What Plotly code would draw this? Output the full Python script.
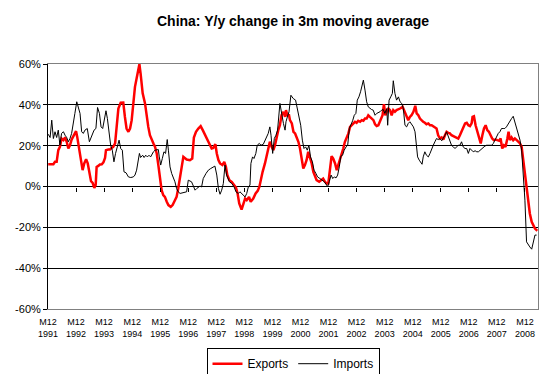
import plotly.graph_objects as go

# months after Dec 1991 (0 = M12 1991), values in percent
exp_month = [0.1, 2.3, 3.0, 3.7, 4.4, 5.1, 5.8, 6.6, 7.3, 8.0, 8.7, 9.4, 10.1, 11.1, 12.0, 12.5, 13.4, 14.1, 14.8, 15.5,
             16.3, 17.0, 17.7, 18.4, 19.1, 19.8, 20.4, 20.8, 21.5, 22.2, 23.0, 23.7, 24.4, 24.8, 25.8, 26.5, 27.2, 27.9,
             28.7, 29.4, 30.1, 31.1, 32.2, 32.9, 33.6, 34.4, 35.1, 35.8, 36.5, 37.2, 37.9, 38.6, 39.1, 39.6, 40.5, 41.5,
             42.2, 42.9, 43.6, 44.3, 45.1, 45.8, 46.5, 47.2, 47.9, 48.6, 49.3, 50.0, 50.8, 51.5, 52.5, 53.3, 54.3, 55.0,
             55.7, 56.5, 57.2, 57.9, 59.3, 60.7, 61.7, 62.4, 63.3, 64.3, 65.3, 66.2, 67.2, 68.2, 69.3, 70.0, 70.7, 71.6,
             72.2, 72.9, 73.6, 74.6, 75.4, 76.1, 76.7, 77.6, 78.6, 79.6, 80.4, 81.1, 81.8, 82.8, 83.5, 84.3, 85.0, 86.0,
             86.7, 87.8, 88.8, 89.7, 90.4, 91.1, 91.8, 92.8, 93.5, 94.2, 94.9, 95.7, 96.4, 97.1, 97.8, 98.5, 99.2, 99.9,
             100.7, 101.4, 101.8, 102.4, 103.1, 103.5, 104.3, 105.0, 105.7, 106.4, 107.1, 107.8, 108.5, 109.2, 109.9,
             110.6, 111.3, 112.0, 112.8, 113.5, 114.2, 114.9, 116.0, 117.0, 117.7, 118.5, 119.2, 119.9, 120.6, 121.3,
             122.0, 122.8, 123.5, 124.2, 124.9, 125.6, 126.3, 127.0, 127.7, 128.5, 129.2, 129.9, 130.6, 131.3, 132.0,
             132.7, 133.5, 134.2, 134.9, 135.6, 136.3, 137.0, 137.7, 138.4, 139.2, 139.9, 140.6, 141.3, 142.0, 143.1,
             143.7, 144.3, 144.9, 145.6, 146.3, 147.0, 147.7, 148.4, 149.1, 149.9, 150.6, 151.7, 152.7, 153.4, 154.1,
             154.8, 155.5, 156.3, 157.1, 157.7, 158.4, 159.1, 159.8, 160.5, 161.2, 161.9, 162.7, 163.4, 164.1, 164.8,
             165.5, 166.2, 166.9, 167.7, 168.4, 169.1, 169.8, 170.5, 171.2, 171.9, 172.6, 173.4, 174.1, 174.8, 175.5,
             176.2, 176.9, 177.6, 178.4, 179.1, 179.8, 180.5, 181.2, 181.6, 182.2, 182.9, 183.6, 184.4, 185.1, 185.8,
             186.5, 187.2, 187.9, 188.6, 189.3, 190.0, 190.7, 191.5, 192.2, 193.0, 193.6, 194.3, 195.0, 195.7, 196.5,
             197.0, 197.6, 198.3, 199.0, 199.7, 200.5, 201.2, 201.9, 202.6, 203.3, 204.0, 204.7, 205.4, 206.1, 206.9,
             207.6, 208.3, 209.0, 209.3]
exp_value = [10.9, 10.9, 12.1, 12.1, 17.8, 19.4, 23.5, 22.7, 24.0, 21.9, 18.6, 20.2, 23.0, 25.6, 27.1, 24.3, 17.8, 12.9,
             8.0, 11.3, 13.4, 11.3, 6.4, 2.6, 1.8, -0.7, 0.8, 9.6, 10.1, 10.8, 10.9, 11.8, 14.0, 17.8, 18.1, 18.1, 18.9,
             19.4, 21.1, 29.2, 38.2, 41.0, 41.1, 34.1, 28.4, 26.8, 28.4, 32.5, 42.3, 48.8, 52.9, 57.0, 59.9, 55.4, 45.6,
             40.7, 34.1, 29.2, 25.1, 22.7, 21.1, 19.4, 16.2, 10.5, 3.1, -1.8, -4.2, -5.1, -7.5, -9.1, -10.0, -9.1, -6.7,
             -5.1, -1.0, 3.9, 9.6, 14.5, 13.2, 12.9, 13.7, 24.0, 26.8, 28.4, 29.6, 27.6, 25.1, 22.7, 20.2, 18.6, 18.9,
             20.7, 16.2, 12.9, 11.3, 10.5, 12.1, 9.6, 5.6, 3.1, 2.3, 0.7, -0.5, -3.4, -8.3, -11.3, -9.1, -5.9, -6.7,
             -5.1, -7.5, -5.9, -3.4, -2.1, -0.2, 3.9, 7.2, 11.3, 15.3, 19.4, 21.9, 19.4, 17.8, 20.2, 24.7, 27.6, 30.0,
             34.9, 36.6, 34.1, 37.4, 34.9, 34.9, 32.5, 30.9, 26.8, 26.0, 24.3, 21.9, 18.6, 14.5, 8.8, 10.5, 12.9, 17.0,
             14.5, 11.3, 7.2, 4.7, 3.1, 2.3, 3.1, 3.9, 2.3, 1.5, 1.5, 9.6, 14.9, 13.7, 11.3, 8.0, 10.5, 13.7, 16.2, 18.6,
             21.9, 23.5, 26.0, 29.2, 30.0, 30.5, 31.7, 31.2, 32.2, 31.7, 32.5, 32.2, 33.3, 33.3, 34.9, 34.1, 33.3, 32.5,
             30.5, 29.6, 30.0, 31.7, 34.9, 40.3, 34.9, 36.6, 38.2, 37.4, 34.9, 37.4, 36.6, 37.4, 37.7, 38.2, 39.0, 36.6,
             34.1, 32.5, 34.1, 34.9, 36.6, 39.5, 35.8, 34.9, 33.3, 32.2, 31.7, 31.2, 30.5, 30.9, 30.0, 30.0, 29.6, 28.9,
             28.4, 25.1, 23.5, 24.0, 23.0, 25.1, 26.8, 26.3, 26.0, 25.1, 24.7, 24.3, 24.0, 23.5, 25.1, 26.8, 29.2, 30.9,
             31.2, 30.0, 29.6, 30.9, 34.1, 34.4, 30.0, 26.8, 23.5, 21.1, 25.1, 28.4, 30.0, 27.6, 26.8, 25.1, 23.5, 22.7,
             23.0, 22.7, 22.4, 23.5, 18.6, 20.2, 19.4, 23.5, 26.8, 22.7, 24.0, 22.7, 23.5, 22.7, 21.9, 21.1, 19.4, 12.9,
             6.4, -0.2, -6.7, -13.2, -17.3, -19.4, -20.6, -21.4, -21.7]

imp_month = [0.1, 0.9, 1.6, 2.3, 3.0, 3.7, 4.4, 5.1, 5.8, 6.6, 7.3, 8.0, 8.7, 9.4, 10.1, 10.8, 11.5, 12.3, 13.0, 13.7,
             14.4, 15.1, 15.8, 16.8, 17.7, 18.7, 19.7, 20.5, 21.2, 22.0, 22.7, 23.4, 24.1, 24.8, 25.4, 26.1, 26.8, 27.5,
             28.2, 28.9, 29.7, 30.4, 31.1, 31.8, 32.5, 33.4, 34.4, 35.4, 36.5, 37.2, 37.9, 38.6, 39.1, 39.6, 40.5, 41.1,
             41.8, 42.5, 43.2, 43.9, 44.5, 45.1, 45.8, 46.5, 47.2, 47.6, 48.2, 48.9, 49.6, 50.3, 51.0, 51.5, 52.2, 52.9,
             53.6, 54.3, 55.0, 55.7, 56.5, 57.5, 58.6, 59.3, 60.0, 60.7, 61.4, 62.2, 62.9, 63.6, 64.3, 65.0, 65.7, 66.4,
             67.6, 68.6, 69.6, 70.7, 71.4, 72.2, 72.9, 73.6, 74.3, 75.0, 75.7, 76.4, 77.6, 78.6, 79.6, 80.4, 81.4, 82.1,
             82.8, 83.5, 84.3, 85.0, 85.7, 86.4, 86.8, 87.5, 88.1, 88.9, 89.5, 90.4, 91.1, 92.1, 92.8, 93.5, 94.2, 94.9,
             95.4, 96.1, 96.8, 97.5, 98.2, 99.2, 99.9, 100.7, 101.4, 101.8, 102.4, 103.1, 103.9, 104.9, 105.9, 106.6,
             107.4, 108.1, 108.8, 109.5, 110.2, 110.9, 111.6, 112.3, 113.1, 113.8, 114.6, 115.3, 116.3, 117.3, 118.2,
             119.2, 119.6, 120.3, 121.1, 121.8, 122.5, 123.2, 123.9, 124.6, 125.3, 126.0, 126.7, 127.5, 128.2, 128.9,
             129.6, 130.3, 131.0, 131.7, 132.3, 133.0, 133.7, 134.4, 134.9, 135.6, 136.3, 137.0, 137.7, 138.4, 139.1,
             139.9, 140.6, 141.3, 142.0, 142.7, 143.4, 144.1, 144.9, 145.3, 145.9, 146.6, 147.3, 147.7, 148.4, 149.1,
             149.9, 150.6, 151.3, 152.0, 152.7, 153.4, 154.1, 154.8, 155.5, 156.3, 157.0, 157.7, 158.1, 158.8, 159.5,
             160.0, 160.5, 161.2, 161.9, 162.7, 163.4, 164.1, 164.8, 165.5, 166.2, 166.9, 167.7, 168.4, 169.1, 169.8,
             170.5, 171.2, 171.9, 172.6, 173.4, 174.1, 174.8, 175.5, 176.2, 176.9, 177.6, 178.4, 179.1, 179.8, 180.5,
             181.2, 181.9, 182.7, 183.4, 184.1, 184.8, 185.5, 186.2, 186.9, 187.6, 188.4, 189.1, 189.8, 190.5, 191.2,
             191.9, 192.6, 193.3, 194.0, 194.7, 195.4, 196.1, 196.9, 197.6, 198.3, 199.0, 199.7, 200.5, 201.2, 201.9,
             202.6, 203.3, 204.0, 204.7, 205.4, 206.1, 206.9, 207.6, 208.3, 209.0]
imp_value = [25.6, 24.0, 32.5, 23.5, 26.8, 24.0, 27.6, 20.2, 26.0, 26.8, 25.1, 24.0, 21.9, 23.5, 26.0, 30.0, 35.8, 41.5,
             38.2, 35.8, 26.8, 26.0, 27.6, 28.4, 21.9, 25.1, 27.6, 28.4, 38.7, 35.8, 29.2, 28.4, 32.5, 37.1, 33.3, 26.0,
             20.2, 17.8, 12.1, 16.2, 19.4, 22.7, 18.6, 17.8, 7.2, 6.7, 4.7, 4.4, 4.7, 5.6, 8.0, 13.7, 16.2, 14.2, 15.3,
             14.2, 15.3, 14.5, 15.3, 14.5, 16.2, 17.0, 17.8, 18.1, 18.1, 14.5, 10.5, 13.7, 17.0, 16.2, 23.0, 17.8, 9.6,
             6.4, 4.7, 2.3, -1.0, -2.6, -3.4, -3.1, -2.6, -2.6, 3.1, 2.8, 2.3, 0.2, -1.8, -1.0, -0.2, 0.2, -0.2, 3.9, 6.4,
             8.0, 8.8, 9.6, 10.0, 5.6, -1.0, -3.8, -1.8, 1.5, 10.5, 5.6, 2.3, 1.5, -0.2, -2.6, -3.4, -2.6, -3.4, -4.2,
             -5.1, -3.4, -0.2, 0.7, 11.3, 14.5, 13.7, 16.2, 20.2, 21.1, 20.2, 20.7, 22.7, 24.3, 26.0, 29.2, 25.1, 16.2,
             23.5, 25.1, 27.6, 40.7, 35.8, 30.9, 27.6, 31.7, 34.1, 36.6, 44.7, 43.1, 42.3, 38.2, 32.5, 30.0, 22.7, 18.6,
             19.4, 17.8, 20.2, 14.5, 12.1, 8.0, 6.4, 4.7, 3.9, 3.1, 2.3, 0.7, -0.2, 2.3, 5.6, 3.9, 4.7, 4.2, 5.6, 9.6,
             14.9, 15.3, 17.8, 19.4, 20.2, 28.4, 30.0, 32.2, 34.9, 35.8, 42.3, 43.9, 46.4, 50.5, 52.1, 47.2, 41.5, 39.0,
             38.2, 37.7, 37.4, 34.9, 35.8, 36.1, 36.6, 37.4, 37.7, 35.8, 38.2, 30.0, 42.3, 43.9, 45.6, 51.8, 45.6, 42.3,
             43.9, 41.5, 40.7, 38.2, 30.0, 29.2, 30.9, 31.7, 30.5, 29.2, 26.8, 18.6, 14.5, 12.9, 11.6, 10.9, 14.5, 17.0,
             15.3, 14.5, 16.2, 18.6, 20.2, 21.9, 23.5, 23.0, 23.5, 22.4, 23.5, 25.1, 26.8, 24.3, 21.9, 20.2, 19.4, 18.6,
             19.4, 20.2, 20.2, 21.9, 19.4, 18.6, 18.6, 16.2, 18.6, 17.8, 17.0, 17.5, 17.0, 17.0, 17.8, 18.6, 19.4, 19.8,
             20.2, 20.2, 20.2, 20.2, 21.1, 22.7, 25.1, 26.0, 26.8, 28.4, 28.4, 28.4, 29.2, 30.9, 32.2, 33.3, 34.4, 31.7,
             28.4, 26.0, 22.7, 17.8, 6.4, -6.7, -27.1, -28.7, -29.6, -30.7, -26.3, -23.8, -23.8]

tick_months = [0, 12, 24, 36, 48, 60, 72, 84, 96, 108, 120, 132, 144, 156, 168, 180, 192, 204]
tick_years = ["1991", "1992", "1993", "1994", "1995", "1996", "1997", "1998", "1999",
              "2000", "2001", "2002", "2003", "2004", "2005", "2006", "2007", "2008"]
tick_text = ["M12<br>" + y for y in tick_years]
y_ticks = [-60, -40, -20, 0, 20, 40, 60]
y_tick_text = ["-60%", "-40%", "-20%", "0%", "20%", "40%", "60%"]
y_grid = [-40, -20, 0, 20, 40]

FONT = "Liberation Sans, Arial, sans-serif"
x_range = [0, 209.6]

fig = go.Figure()
fig.add_trace(go.Scatter(x=exp_month, y=exp_value, mode="lines", name="Exports",
                         line=dict(color="#FF0000", width=2.5)))
fig.add_trace(go.Scatter(x=imp_month, y=imp_value, mode="lines", name="Imports",
                         line=dict(color="#000000", width=1)))
# helper trace for the tick axis on the 0% line and the right border / grid axis
fig.add_trace(go.Scatter(x=[None], y=[None], xaxis="x2", yaxis="y2", showlegend=False,
                         hoverinfo="skip"))

fig.update_layout(
    width=547, height=374,
    margin=dict(l=48, r=9, t=64, b=65, autoexpand=False),
    paper_bgcolor="white", plot_bgcolor="white",
    font=dict(family=FONT, color="#000000"),
    title=dict(text="<b>China: Y/y change in 3m moving average</b>",
               font=dict(family=FONT, size=14, color="#000000"),
               x=0.5, xref="paper", xanchor="center",
               y=1 - 21 / 374, yref="container", yanchor="middle"),
    xaxis=dict(range=x_range, tickvals=tick_months, ticktext=tick_text, ticks="",
               showgrid=False, zeroline=False, showline=True, mirror=True,
               linecolor="#808080", linewidth=1, automargin=False, ticklabelstandoff=4,
               tickfont=dict(size=9, color="#000000"), tickangle=0),
    xaxis2=dict(range=x_range, overlaying="x", anchor="free", position=0.5,
                tickvals=tick_months[1:], ticks="outside", ticklen=4, tickcolor="#000000",
                showticklabels=False, showgrid=False, zeroline=False, showline=False,
                automargin=False),
    yaxis=dict(range=[-60, 60], tickvals=y_ticks, ticktext=y_tick_text, ticks="outside",
               ticklen=4, tickcolor="#000000", showline=True, linecolor="#000000",
               linewidth=1, showgrid=False, zeroline=True, zerolinecolor="#000000",
               zerolinewidth=1, automargin=False,
               tickfont=dict(size=11, color="#000000")),
    yaxis2=dict(range=[-60, 60], overlaying="y", side="right", anchor="x",
                tickvals=y_grid, showgrid=True, gridcolor="#000000", gridwidth=1,
                showline=True, linecolor="#808080", linewidth=1,
                zeroline=False, showticklabels=False, ticks="", automargin=False),
    legend=dict(orientation="h", x=0.5, xanchor="center", y=-0.16, yanchor="top",
                bordercolor="#000000", borderwidth=1, bgcolor="white",
                font=dict(family=FONT, size=12, color="#000000"),
                itemwidth=30, tracegroupgap=0),
    showlegend=True,
)

fig.write_html("out.html", config={"displayModeBar": False},
               post_script="document.body.style.margin='0px';document.body.style.padding='0px';")
